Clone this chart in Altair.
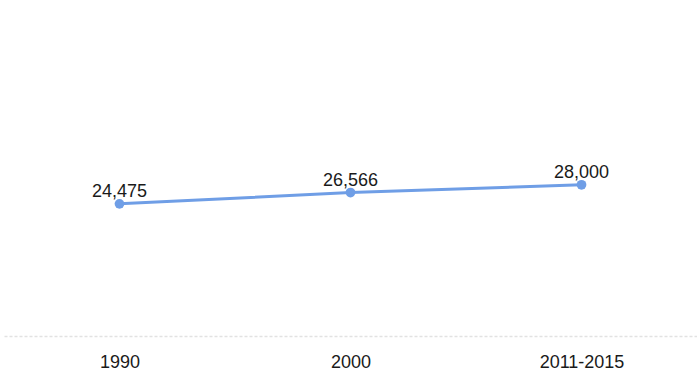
import altair as alt
import pandas as pd

# Periods and values plotted on the line
periods = ["1990", "2000", "2011-2015"]
values = [24475, 26566, 28000]
value_labels = ["24,475", "26,566", "28,000"]

df = pd.DataFrame({"period": periods, "value": values, "label": value_labels})

FONT = "Liberation Sans"
LINE_COLOR = "#6f9ee6"

x_enc = alt.X(
    "period:O",
    sort=periods,
    scale=alt.Scale(type="point", padding=0.5),
    axis=alt.Axis(
        title=None,
        labelAngle=0,
        labelFont=FONT,
        labelFontSize=18,
        labelColor="#1a1a1a",
        labelPadding=17,
        ticks=False,
        domainColor="#e2e2e2",
        domainWidth=1.5,
        domainDash=[3, 2],
    ),
)
y_enc = alt.Y(
    "value:Q",
    scale=alt.Scale(domain=[0, 60000], nice=False),
    axis=None,
)

base = alt.Chart(df).encode(x=x_enc, y=y_enc)

line = base.mark_line(color=LINE_COLOR, strokeWidth=3)
points = base.mark_circle(color=LINE_COLOR, size=95, opacity=1)
labels = base.mark_text(
    font=FONT, fontSize=18, color="#1a1a1a", baseline="alphabetic", dy=-7
).encode(text="label:N")

chart = (
    alt.layer(line, points, labels)
    .properties(
        width=693,
        height=324,
        padding={"left": 4, "top": 12, "right": 0, "bottom": 41},
        autosize=alt.AutoSizeParams(type="none"),
        background="white",
    )
    .configure_view(stroke=None)
)

chart.save("out.html", embed_options={"renderer": "svg", "actions": False})
